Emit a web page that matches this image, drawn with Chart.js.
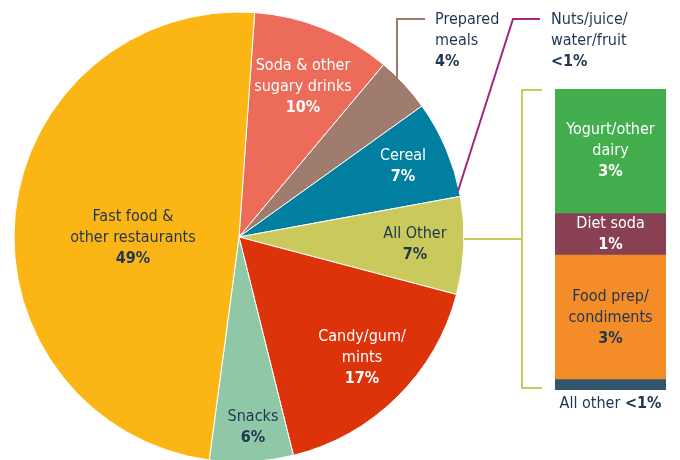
<!DOCTYPE html>
<html>
<head>
<meta charset="utf-8">
<script src="https://cdn.jsdelivr.net/npm/chart.js@4.4.1/dist/chart.umd.min.js"></script>
<style>
  html, body { margin: 0; padding: 0; background: #fff; }
  #wrap { position: relative; width: 680px; height: 460px; overflow: hidden; }
  #pieBox { position: absolute; left: 0; top: 0; width: 680px; height: 460px; }
  #barBox { position: absolute; left: 555px; top: 89px; width: 111px; height: 330px; }
</style>
</head>
<body>
<div id="wrap">
  <div id="pieBox"><canvas id="pieChart"></canvas></div>
  <div id="barBox"><canvas id="barChart"></canvas></div>
</div>
<script>
// Nguồn calo rỗng theo nhóm thực phẩm (%)
const pieLabels = ["Soda & other\nsugary drinks", "Prepared meals", "Cereal", "All Other", "Candy/gum/\nmints", "Snacks", "Fast food &\nother restaurants"];
const pieValues = [10, 4, 7, 7, 17, 6, 49];
const pieColors = ["#ed6b59", "#a07c6e", "#007fa1", "#c9ca5b", "#dc330b", "#90c7a6", "#fbb616"];

// Chi tiết nhóm "All Other" (từ dưới lên)
const otherLabels = ["All other", "Food prep/\ncondiments", "Diet soda", "Yogurt/other\ndairy"];
const otherValues = [0.25, 3, 1, 3];
const otherTexts = ["<1%", "3%", "1%", "3%"];
const otherColors = ["#32566a", "#f48c27", "#8a4053", "#43ae4d"];

const NAVY = "#1f3552";
const FONT = "'Liberation Sans Narrow', 'DejaVu Sans Condensed', 'Open Sans', sans-serif";
const LINE_H = 21;

// Vị trí nhãn trong lát bánh (so với tâm), null = nhãn ngoài
const pieLabelPos = [
    { dx: 64, dy: -150, color: "#fff" },
    null,
    { dx: 164, dy: -71, color: "#fff" },
    { dx: 176, dy: 7, color: NAVY },
    { dx: 123, dy: 121, color: "#fff" },
    { dx: 14, dy: 190, color: NAVY },
    { dx: -106, dy: 1, color: NAVY }
];

function drawBlock(ctx, lines, x, yMid, color, align) {
    ctx.save();
    ctx.fillStyle = color;
    ctx.textAlign = align || "center";
    ctx.textBaseline = "middle";
    const top = yMid - (lines.length - 1) * LINE_H / 2;
    lines.forEach((t, i) => {
        const bold = i === lines.length - 1;
        ctx.font = (bold ? "bold " : "") + "16px " + FONT;
        ctx.fillText(t, x, top + i * LINE_H);
    });
    ctx.restore();
}

function line(ctx, pts, color) {
    ctx.save();
    ctx.strokeStyle = color;
    ctx.lineWidth = 2;
    ctx.beginPath();
    pts.forEach((p, i) => i ? ctx.lineTo(p[0], p[1]) : ctx.moveTo(p[0], p[1]));
    ctx.stroke();
    ctx.restore();
}

const pieLabelPlugin = {
    id: "pieLabels",
    afterDraw(chart) {
        const ctx = chart.ctx;
        const arcs = chart.getDatasetMeta(0).data;
        const cx = arcs[0].x, cy = arcs[0].y;
        arcs.forEach((arc, i) => {
            const pos = pieLabelPos[i];
            if (!pos) return;
            const lines = pieLabels[i].split("\n").concat([pieValues[i] + "%"]);
            drawBlock(ctx, lines, cx + pos.dx, cy + pos.dy, pos.color);
        });

        // Prepared meals: nhãn ngoài
        line(ctx, [[cx + 158, cy - 155], [cx + 158, cy - 218], [cx + 186, cy - 218]], "#a07c6e");
        drawBlock(ctx, ["Prepared", "meals", pieValues[1] + "%"], cx + 196, cy - 196, NAVY, "left");

        // Nuts/juice/water/fruit
        line(ctx, [[cx + 219, cy - 46], [cx + 274, cy - 218], [cx + 301, cy - 218]], "#a3267f");
        drawBlock(ctx, ["Nuts/juice/", "water/fruit", "<1%"], cx + 312, cy - 196, NAVY, "left");

        // Ngoặc nối sang cột chi tiết
        line(ctx, [[cx + 225, cy + 2], [cx + 283, cy + 2]], "#c9ca5b");
        line(ctx, [[cx + 303, 90], [cx + 283, 90], [cx + 283, 388], [cx + 303, 388]], "#c9ca5b");
    }
};

new Chart(document.getElementById("pieChart"), {
    type: "pie",
    data: {
        labels: pieLabels,
        datasets: [{
            data: pieValues,
            backgroundColor: pieColors,
            borderColor: "#fff",
            borderWidth: 1,
            hoverOffset: 0
        }]
    },
    options: {
        responsive: true,
        maintainAspectRatio: false,
        animation: false,
        rotation: 4,
        radius: 225,
        layout: { padding: { left: 14, right: 216, top: 14, bottom: 0 } },
        plugins: { legend: { display: false }, tooltip: { enabled: false } }
    },
    plugins: [pieLabelPlugin]
});

const barLabelPlugin = {
    id: "barLabels",
    afterDraw(chart) {
        const ctx = chart.ctx;
        const x = (chart.chartArea.left + chart.chartArea.right) / 2;
        chart.data.datasets.forEach((ds, i) => {
            const bar = chart.getDatasetMeta(i).data[0];
            if (i === 0) {
                // nhãn nằm dưới cột: "All other" thường, "<1%" đậm
                ctx.save();
                ctx.fillStyle = NAVY;
                ctx.textBaseline = "middle";
                ctx.font = "16px " + FONT;
                const a = otherLabels[0] + " ";
                const wa = ctx.measureText(a).width;
                ctx.font = "bold 16px " + FONT;
                const wb = ctx.measureText(otherTexts[0]).width;
                const y = chart.chartArea.bottom + 14;
                const x0 = x - (wa + wb) / 2;
                ctx.textAlign = "left";
                ctx.font = "16px " + FONT;
                ctx.fillText(a, x0, y);
                ctx.font = "bold 16px " + FONT;
                ctx.fillText(otherTexts[0], x0 + wa, y);
                ctx.restore();
                return;
            }
            const mid = (bar.y + bar.base) / 2;
            const lines = otherLabels[i].split("\n").concat([otherTexts[i]]);
            const color = i === 1 ? NAVY : "#fff";
            drawBlock(ctx, lines, x, mid, color);
        });
    }
};

new Chart(document.getElementById("barChart"), {
    type: "bar",
    data: {
        labels: ["All Other"],
        datasets: otherValues.map((v, i) => ({
            label: otherLabels[i],
            data: [v],
            backgroundColor: otherColors[i],
            borderWidth: 0,
            barPercentage: 1,
            categoryPercentage: 1
        }))
    },
    options: {
        responsive: true,
        maintainAspectRatio: false,
        animation: false,
        layout: { padding: { left: 0, right: 0, top: 0, bottom: 29 } },
        scales: {
            x: { stacked: true, display: false },
            y: { stacked: true, display: false, min: 0, max: 7.25 }
        },
        plugins: { legend: { display: false }, tooltip: { enabled: false } }
    },
    plugins: [barLabelPlugin]
});
</script>
</body>
</html>
